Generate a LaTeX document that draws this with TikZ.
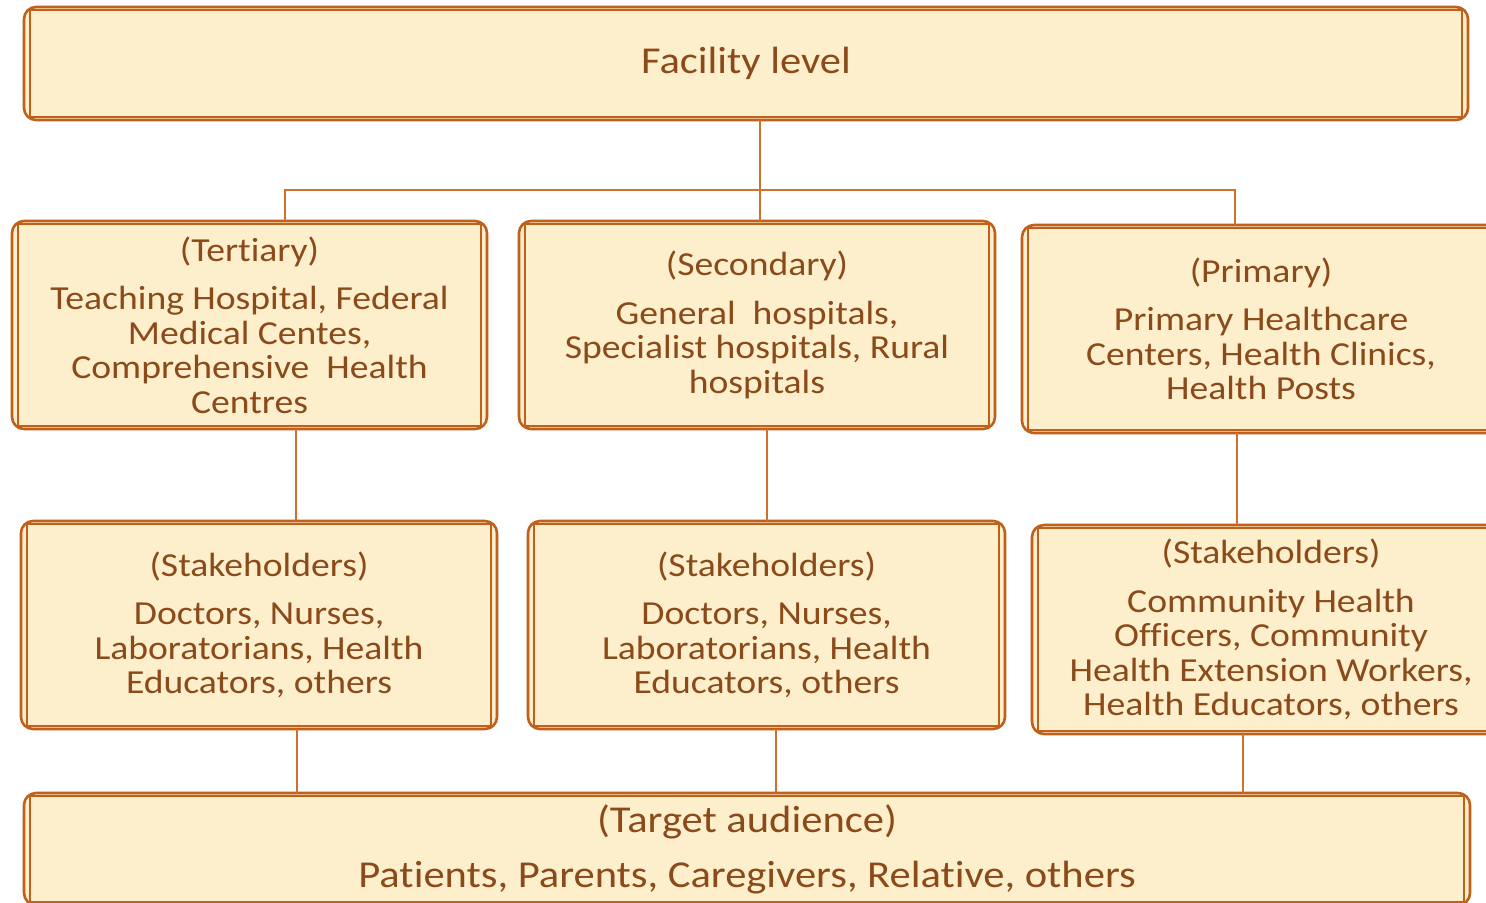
\documentclass[tikz,border=0pt]{standalone}
\usepackage{fontspec}
\setmainfont{Carlito}[FakeStretch=1.12, Ligatures=NoCommon]
\definecolor{fillc}{HTML}{FDEFCC}
\definecolor{edgec}{HTML}{C0601A}
\definecolor{textc}{HTML}{8B4A1A}
\definecolor{linec}{HTML}{D0702A}
\begin{document}
\begin{tikzpicture}[x=0.5pt,y=-0.5pt,
  box/.style={draw=edgec, line width=1.3pt, fill=fillc, rounded corners=6pt,
    inner sep=0pt, outer sep=0pt, align=center, text=textc,
    font=\fontsize{16.8}{17.25}\selectfont},
  innerline/.style={draw=edgec, line width=0.6pt},
  conn/.style={draw=linec, line width=0.8pt}]
\useasboundingbox (0,0) rectangle (1486,902);
\clip (0,0) rectangle (1486,902);
\fill[white] (0,0) rectangle (1486,902);

\node[box, minimum width=722pt, minimum height=56.5pt, font=\fontsize{19}{20}\selectfont] (top) at (746,63.5) {Facility level};

\node[box, minimum width=237.5pt, minimum height=104pt] (ter) at (249.5,325)
  {(Tertiary)\\[7pt] Teaching Hospital, Federal\\ Medical Centes,\\ Comprehensive\ \ Health\\ Centres};
\node[box, minimum width=238pt, minimum height=104pt] (sec) at (757,325)
  {(Secondary)\\[7pt] General\ \ hospitals,\\ Specialist hospitals, Rural\\ hospitals};
\node[box, minimum width=239pt, minimum height=104pt] (pri) at (1261,329)
  {(Primary)\\[7pt] Primary Healthcare\\ Centers, Health Clinics,\\ Health Posts};

\node[box, minimum width=238pt, minimum height=104pt] (sa) at (259,625)
  {(Stakeholders)\\[7pt] Doctors, Nurses,\\ Laboratorians, Health\\ Educators, others};
\node[box, minimum width=238.5pt, minimum height=104pt] (sb) at (766.5,625)
  {(Stakeholders)\\[7pt] Doctors, Nurses,\\ Laboratorians, Health\\ Educators, others};
\node[box, minimum width=239pt, minimum height=104.5pt] (sc) at (1271,629.5)
  {(Stakeholders)\\[7pt] Community Health\\ Officers, Community\\ Health Extension Workers,\\ Health Educators, others};

\node[box, minimum width=723pt, minimum height=56pt, font=\fontsize{19}{20}\selectfont] (bot) at (747,849)
  {(Target audience)\\[7.5pt] Patients, Parents, Caregivers, Relative, others};

\foreach \n in {top,ter,sec,pri,sa,sb,sc,bot}
  \draw[innerline] ([xshift=3pt,yshift=-1.5pt]\n.north west) rectangle ([xshift=-3pt,yshift=1.5pt]\n.south east);

% connectors
\coordinate (tj) at (285,190);
\coordinate (mj) at (760,190);
\coordinate (pj) at (1235,190);
\draw[conn] (mj |- top.south) -- (mj |- sec.north);
\draw[conn] (tj |- ter.north) -- (tj) -- (pj) -- (pj |- pri.north);

\coordinate (c1) at (296,0);
\coordinate (c2) at (767,0);
\coordinate (c3) at (1237,0);
\draw[conn] (c1 |- ter.south) -- (c1 |- sa.north);
\draw[conn] (c2 |- sec.south) -- (c2 |- sb.north);
\draw[conn] (c3 |- pri.south) -- (c3 |- sc.north);

\coordinate (d1) at (297,0);
\coordinate (d2) at (776,0);
\coordinate (d3) at (1243,0);
\draw[conn] (d1 |- sa.south) -- (d1 |- bot.north);
\draw[conn] (d2 |- sb.south) -- (d2 |- bot.north);
\draw[conn] (d3 |- sc.south) -- (d3 |- bot.north);
\end{tikzpicture}
\end{document}
